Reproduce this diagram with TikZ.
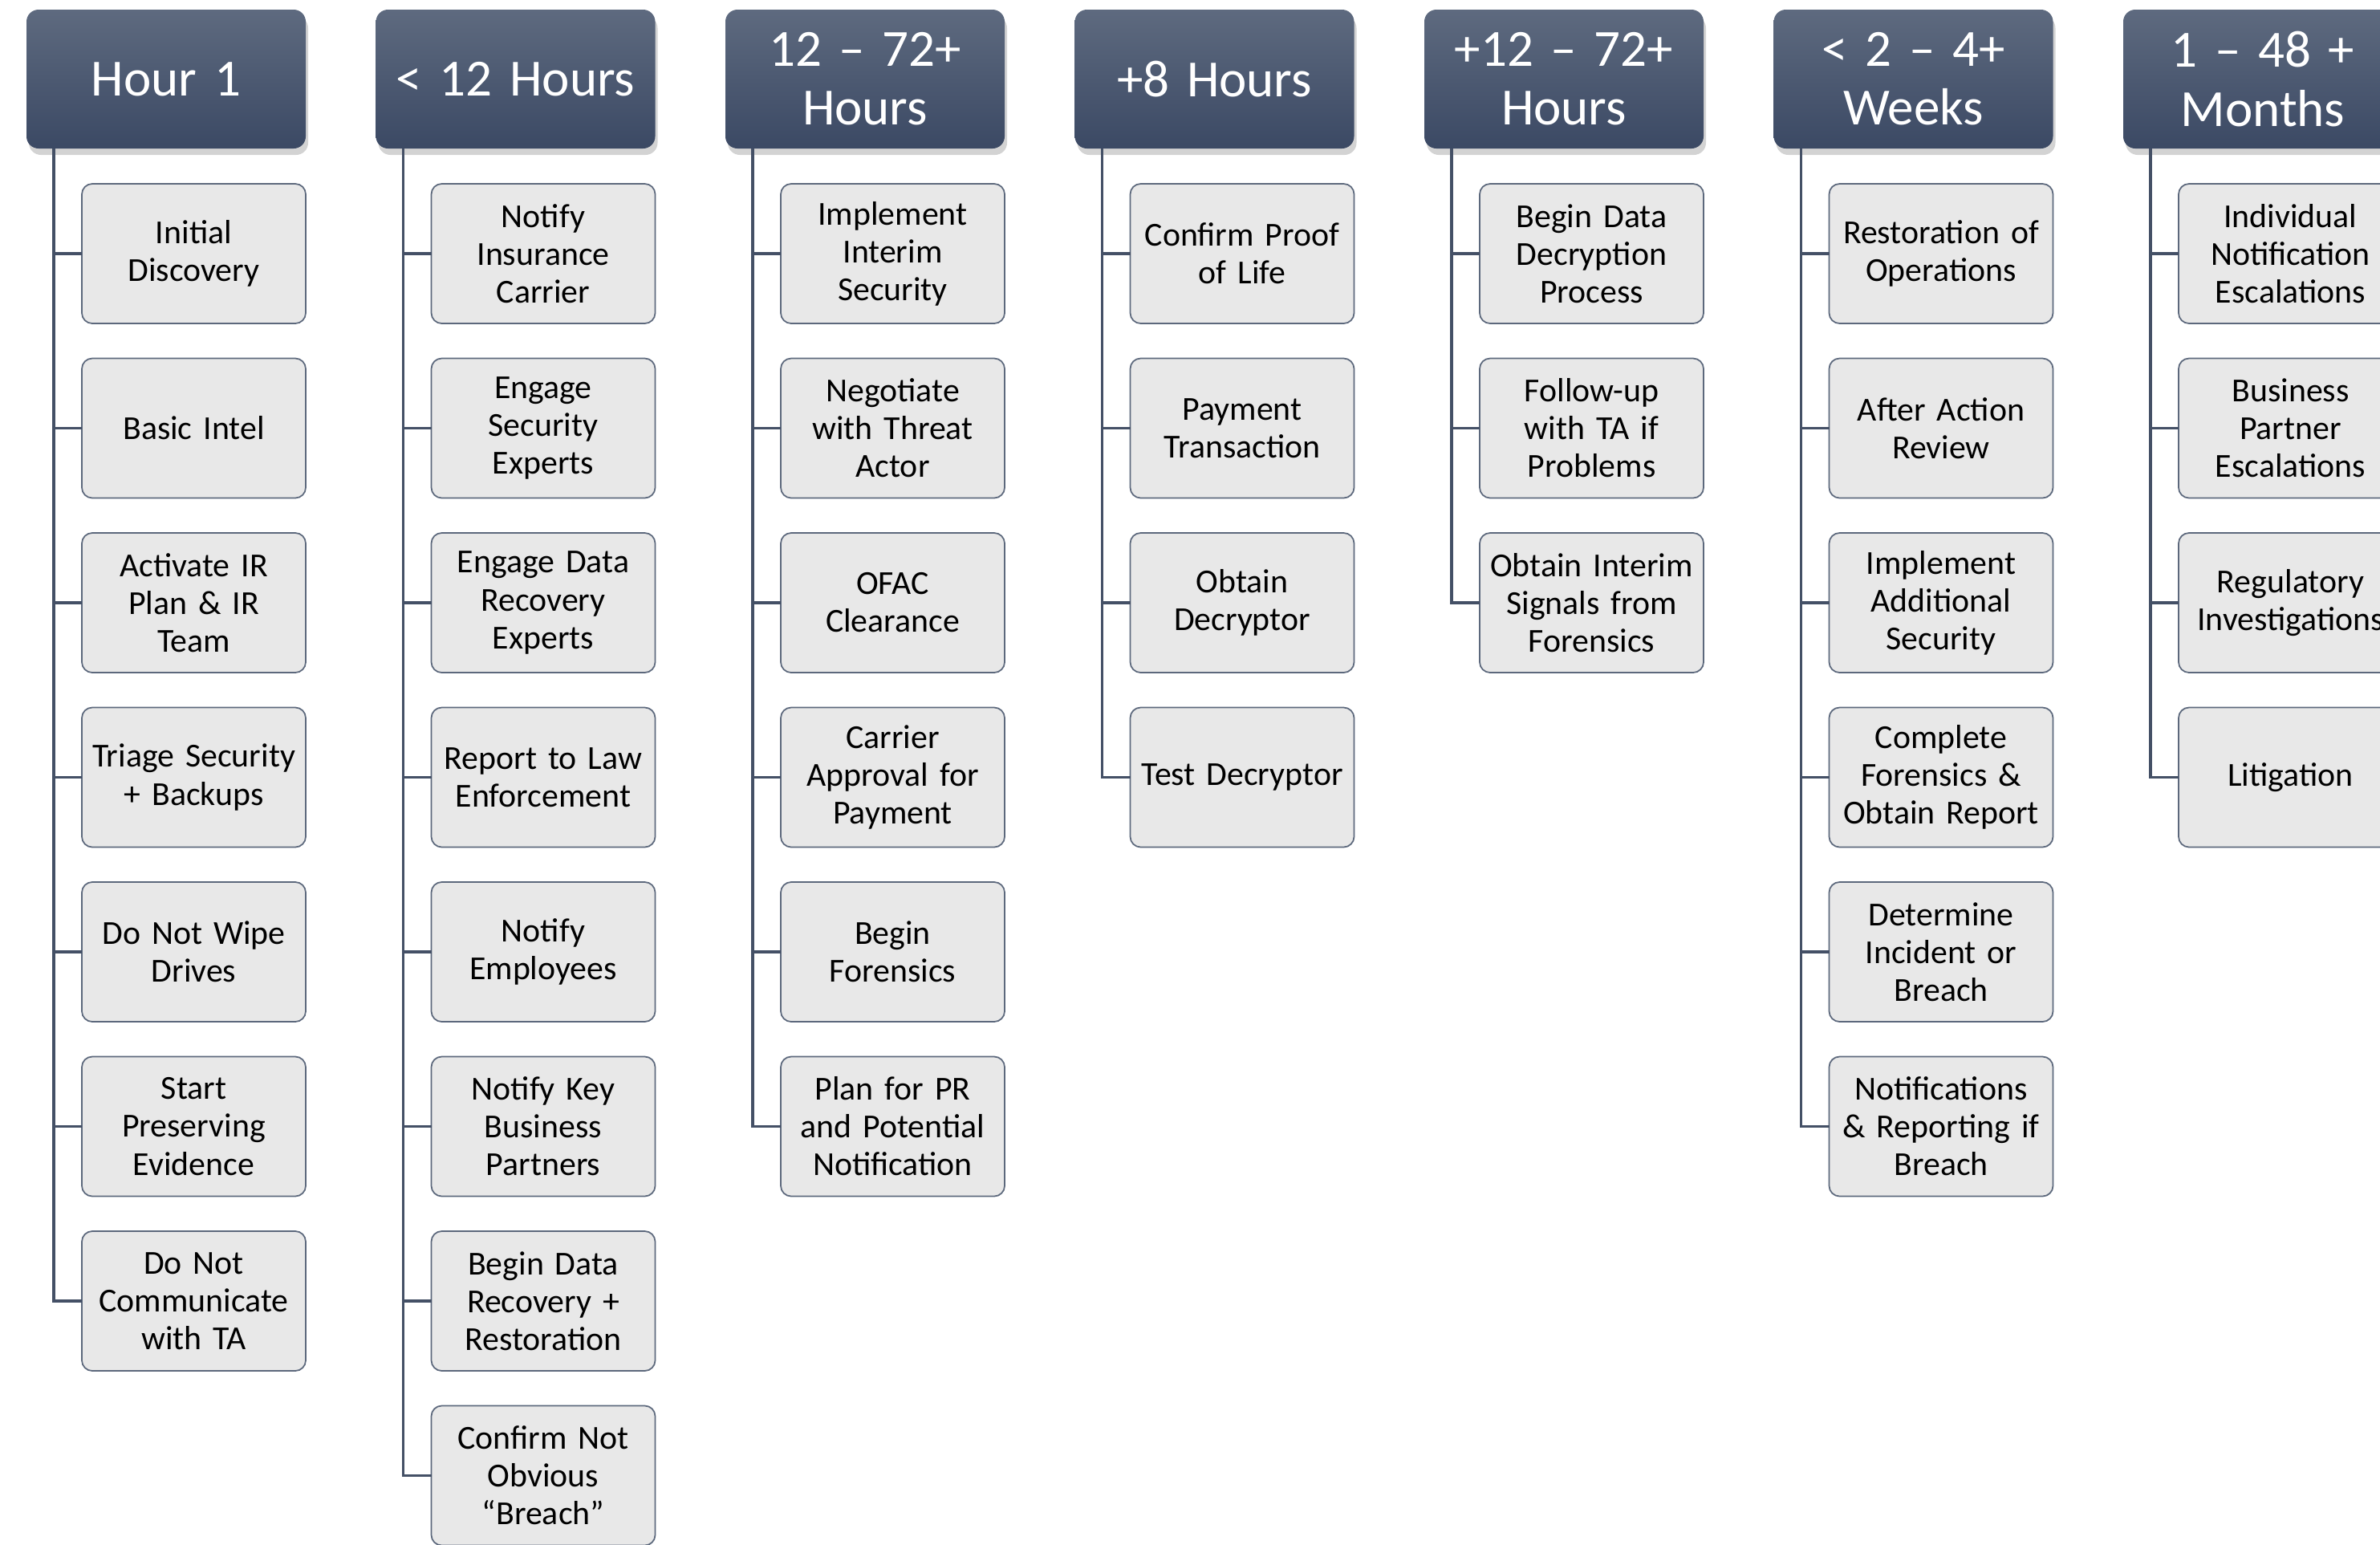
\documentclass[tikz,border=0pt]{standalone}
\usepackage{fontspec}
\setmainfont{Carlito}
\usetikzlibrary{positioning,shadows}
\definecolor{phasetop}{RGB}{94,106,127}
\definecolor{phasebot}{RGB}{59,73,100}
\definecolor{branchline}{RGB}{68,80,102}
\definecolor{taskfill}{RGB}{232,232,232}
\definecolor{taskedge}{RGB}{92,104,124}

\begin{document}
\begin{tikzpicture}[
  phase/.style={rounded corners=1.5mm, top color=phasetop, bottom color=phasebot, text=white,
    minimum width=3.48cm, minimum height=1.73cm, text width=3.28cm, inner xsep=1mm, outer sep=0pt,
    align=center, font=\fontsize{18.5}{20.8}\selectfont,
    drop shadow={shadow xshift=0.3mm, shadow yshift=-0.8mm, opacity=0.35}},
  task/.style={draw=taskedge, fill=taskfill, rounded corners=1.3mm, line width=0.5pt,
    minimum width=2.79cm, minimum height=1.74cm, text width=2.59cm, inner xsep=1mm, outer sep=0pt,
    align=center, font=\fontsize{11.9}{13.4}\selectfont},
  branch/.style={draw=branchline, line width=0.9pt},
  node distance=4.35mm
]
\useasboundingbox (0,0) rectangle (29.66,-19.25);
\clip (0,0) rectangle (29.66,-19.25);

% Phase headers - one row across the top
\node[phase] (p1) at (2.07,-0.985) {Hour 1};
\node[phase, right=8.75mm of p1] (p2) {< 12 Hours};
\node[phase, right=8.75mm of p2] (p3) {12 – 72+\\Hours};
\node[phase, right=8.75mm of p3] (p4) {+8 Hours};
\node[phase, right=8.75mm of p4] (p5) {+12 – 72+\\Hours};
\node[phase, right=8.75mm of p5] (p6) {< 2 – 4+\\Weeks};
\node[phase, right=8.75mm of p6] (p7) {1 – 48 +\\Months};

% Hour 1
\node[task, below right=4.4mm and 6.9mm of p1.south west] (p1a) {Initial\\Discovery};
\node[task, below=of p1a] (p1b) {Basic Intel};
\node[task, below=of p1b] (p1c) {Activate IR\\Plan \& IR\\Team};
\node[task, below=of p1c] (p1d) {Triage Security\\+ Backups};
\node[task, below=of p1d] (p1e) {Do Not Wipe\\Drives};
\node[task, below=of p1e] (p1f) {Start\\Preserving\\Evidence};
\node[task, below=of p1f] (p1g) {Do Not\\Communicate\\with TA};

% < 12 Hours
\node[task, below right=4.4mm and 6.9mm of p2.south west] (p2a) {Notify\\Insurance\\Carrier};
\node[task, below=of p2a] (p2b) {Engage\\Security\\Experts};
\node[task, below=of p2b] (p2c) {Engage Data\\Recovery\\Experts};
\node[task, below=of p2c] (p2d) {Report to Law\\Enforcement};
\node[task, below=of p2d] (p2e) {Notify\\Employees};
\node[task, below=of p2e] (p2f) {Notify Key\\Business\\Partners};
\node[task, below=of p2f] (p2g) {Begin Data\\Recovery +\\Restoration};
\node[task, below=of p2g] (p2h) {Confirm Not\\Obvious\\“Breach”};

% 12 - 72+ Hours
\node[task, below right=4.4mm and 6.9mm of p3.south west] (p3a) {Implement\\Interim\\Security};
\node[task, below=of p3a] (p3b) {Negotiate\\with Threat\\Actor};
\node[task, below=of p3b] (p3c) {OFAC\\Clearance};
\node[task, below=of p3c] (p3d) {Carrier\\Approval for\\Payment};
\node[task, below=of p3d] (p3e) {Begin\\Forensics};
\node[task, below=of p3e] (p3f) {Plan for PR\\and Potential\\Notification};

% +8 Hours
\node[task, below right=4.4mm and 6.9mm of p4.south west] (p4a) {Confirm Proof\\of Life};
\node[task, below=of p4a] (p4b) {Payment\\Transaction};
\node[task, below=of p4b] (p4c) {Obtain\\Decryptor};
\node[task, below=of p4c] (p4d) {Test Decryptor};

% +12 - 72+ Hours
\node[task, below right=4.4mm and 6.9mm of p5.south west] (p5a) {Begin Data\\Decryption\\Process};
\node[task, below=of p5a] (p5b) {Follow-up\\with TA if\\Problems};
\node[task, below=of p5b] (p5c) {Obtain Interim\\Signals from\\Forensics};

% < 2 - 4+ Weeks
\node[task, below right=4.4mm and 6.9mm of p6.south west] (p6a) {Restoration of\\Operations};
\node[task, below=of p6a] (p6b) {After Action\\Review};
\node[task, below=of p6b] (p6c) {Implement\\Additional\\Security};
\node[task, below=of p6c] (p6d) {Complete\\Forensics \&\\Obtain Report};
\node[task, below=of p6d] (p6e) {Determine\\Incident or\\Breach};
\node[task, below=of p6e] (p6f) {Notifications\\\& Reporting if\\Breach};

% 1 - 48 + Months
\node[task, below right=4.4mm and 6.9mm of p7.south west] (p7a) {Individual\\Notification\\Escalations};
\node[task, below=of p7a] (p7b) {Business\\Partner\\Escalations};
\node[task, below=of p7b] (p7c) {Regulatory\\Investigations};
\node[task, below=of p7c] (p7d) {Litigation};

% Branch lines from each header
\draw[branch] ([xshift=3.4mm]p1.south west) coordinate (s1) |- (p1a.west) (s1) |- (p1b.west)
  (s1) |- (p1c.west) (s1) |- (p1d.west) (s1) |- (p1e.west) (s1) |- (p1f.west) (s1) |- (p1g.west);
\draw[branch] ([xshift=3.4mm]p2.south west) coordinate (s2) |- (p2a.west) (s2) |- (p2b.west)
  (s2) |- (p2c.west) (s2) |- (p2d.west) (s2) |- (p2e.west) (s2) |- (p2f.west) (s2) |- (p2g.west)
  (s2) |- (p2h.west);
\draw[branch] ([xshift=3.4mm]p3.south west) coordinate (s3) |- (p3a.west) (s3) |- (p3b.west)
  (s3) |- (p3c.west) (s3) |- (p3d.west) (s3) |- (p3e.west) (s3) |- (p3f.west);
\draw[branch] ([xshift=3.4mm]p4.south west) coordinate (s4) |- (p4a.west) (s4) |- (p4b.west)
  (s4) |- (p4c.west) (s4) |- (p4d.west);
\draw[branch] ([xshift=3.4mm]p5.south west) coordinate (s5) |- (p5a.west) (s5) |- (p5b.west)
  (s5) |- (p5c.west);
\draw[branch] ([xshift=3.4mm]p6.south west) coordinate (s6) |- (p6a.west) (s6) |- (p6b.west)
  (s6) |- (p6c.west) (s6) |- (p6d.west) (s6) |- (p6e.west) (s6) |- (p6f.west);
\draw[branch] ([xshift=3.4mm]p7.south west) coordinate (s7) |- (p7a.west) (s7) |- (p7b.west)
  (s7) |- (p7c.west) (s7) |- (p7d.west);
\end{tikzpicture}
\end{document}
